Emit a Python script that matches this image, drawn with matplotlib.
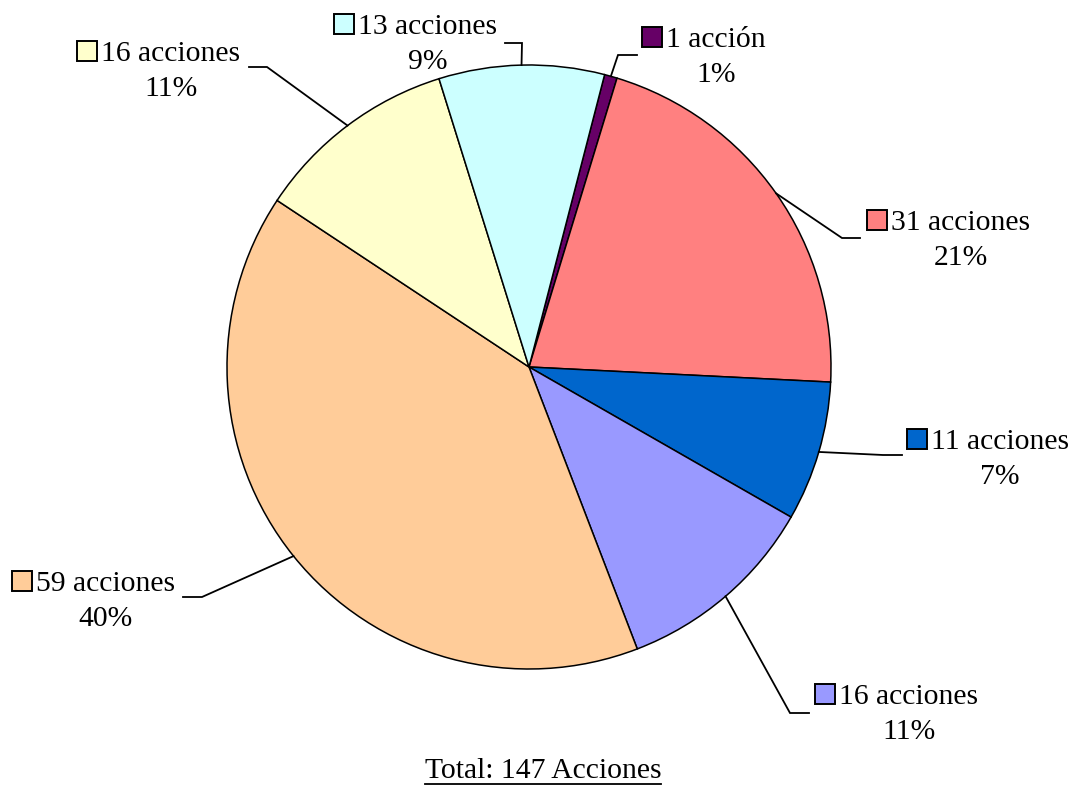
import matplotlib
matplotlib.use("Agg")
import matplotlib.pyplot as plt
import numpy as np
from matplotlib.patches import Rectangle

# ---- data ----
counts = [1, 31, 11, 16, 59, 16, 13]
colors = ["#660066", "#FF8080", "#0066CC", "#9999FF", "#FFCC99", "#FFFFCC", "#CCFFFF"]
title_text = "Total: 147 Acciones"

# ---- layout (image pixel coords, y downward) ----
W, H = 1073, 789
CX, CY, R = 529, 367, 302
START = 75.5
# per slice: elbow point, horizontal end, box left, box top
elbows = [(618, 55), (842, 238), (883, 455), (790, 713), (202, 597), (267, 67), (522, 43)]
hends = [(637, 55), (860, 238), (902, 455), (809, 713), (183, 597), (249, 67), (505, 43)]
boxes = [(642, 27), (867, 210), (907, 429), (815, 684), (12, 571), (77, 41), (334, 14)]
BOX = 20
FS = 21.3
FONT = "Liberation Serif"

def Y(y):
    return H - y

fig = plt.figure(figsize=(W / 100, H / 100), dpi=100)
ax = fig.add_axes([0, 0, 1, 1])
total = sum(counts)
wedges, _ = ax.pie(counts, colors=colors, startangle=START, counterclock=False,
                   center=(CX, Y(CY)), radius=R,
                   wedgeprops=dict(edgecolor="black", linewidth=1.1))
ax.set_xlim(0, W)
ax.set_ylim(0, H)
ax.set_aspect("equal")
ax.axis("off")

fig.canvas.draw()
renderer = fig.canvas.get_renderer()

for i, (w, v) in enumerate(zip(wedges, counts)):
    mid = np.deg2rad((w.theta1 + w.theta2) / 2)
    sx = CX + R * np.cos(mid)
    sy = Y(CY) + R * np.sin(mid)
    ex, ey = elbows[i]
    hx, hy = hends[i]
    ax.plot([sx, ex, hx], [sy, Y(ey), Y(hy)], color="black", lw=1.3,
            solid_joinstyle="miter", zorder=3)
    bx, by = boxes[i]
    ax.add_patch(Rectangle((bx, Y(by + BOX)), BOX, BOX, facecolor=colors[i],
                           edgecolor="black", lw=1.4, zorder=4))
    name = "1 acción" if v == 1 else f"{v} acciones"
    tx = bx + BOX + 4
    t = ax.text(tx, Y(by + BOX), name, fontsize=FS, family=FONT,
                ha="left", va="baseline", zorder=5)
    bb = t.get_window_extent(renderer)
    cxp = (bb.x0 + bb.x1) / 2
    pct = f"{round(v / total * 100):d}%"
    ax.text(cxp, Y(by + BOX + 35), pct, fontsize=FS, family=FONT,
            ha="center", va="baseline", zorder=5)

tt = ax.text(543, Y(778), title_text, fontsize=FS, family=FONT,
             ha="center", va="baseline")
bb = tt.get_window_extent(renderer)
ax.plot([bb.x0, bb.x1], [Y(784), Y(784)], color="black", lw=1.3)

fig.savefig("out.png", dpi=100)
